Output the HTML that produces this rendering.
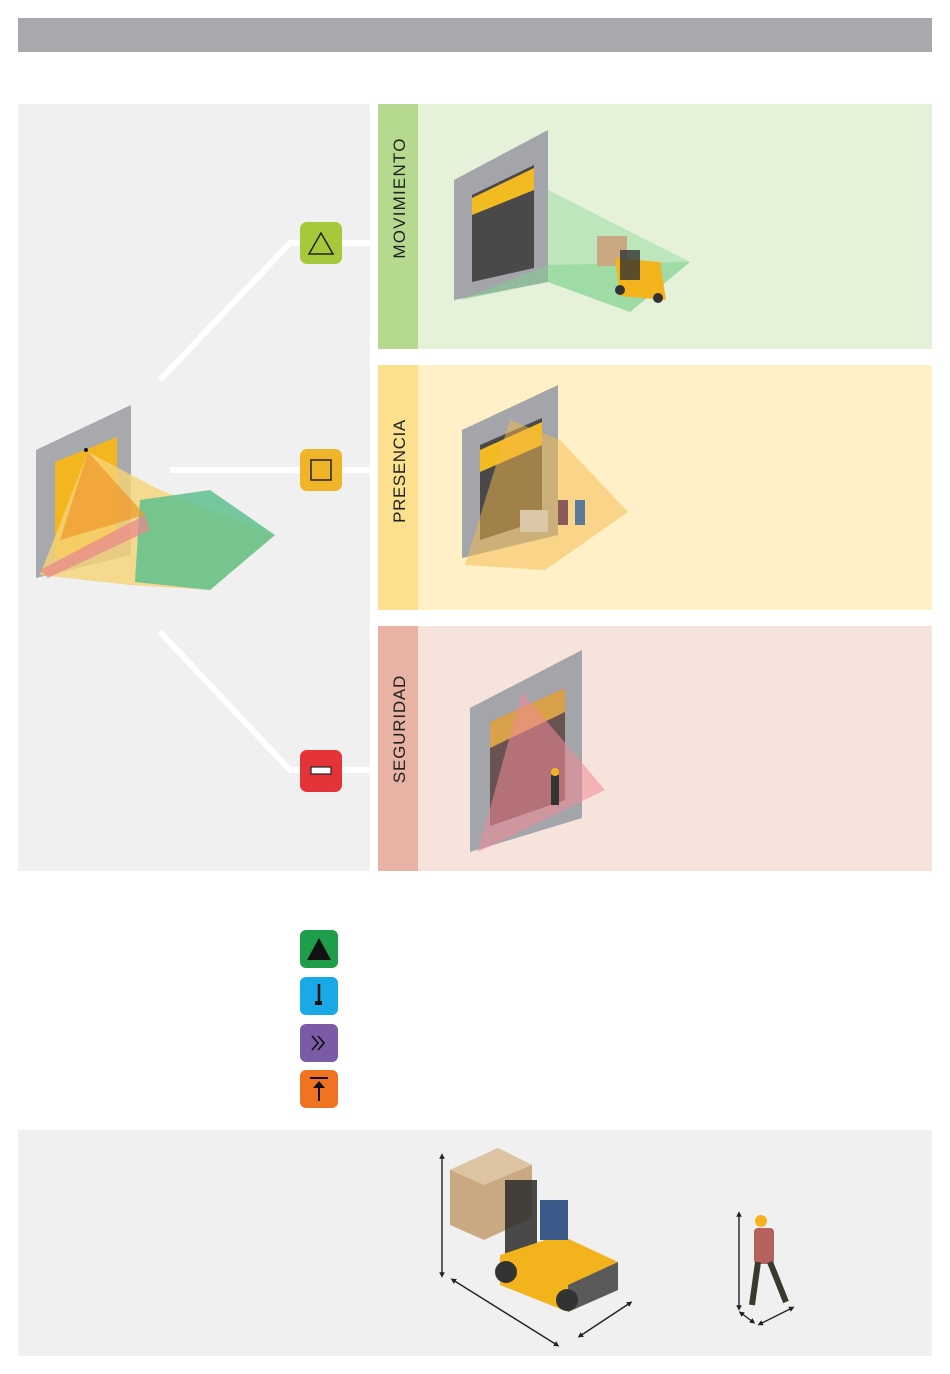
<!DOCTYPE html>
<html><head><meta charset="utf-8"><style>
html,body{margin:0;padding:0;background:#fff;}
svg{display:block;}
text{font-family:"Liberation Sans",sans-serif;}
</style></head><body>
<svg width="950" height="1374" viewBox="0 0 950 1374" xmlns="http://www.w3.org/2000/svg">
<defs><marker id="ar" viewBox="0 0 10 10" refX="5" refY="5" markerWidth="4" markerHeight="4" orient="auto-start-reverse"><path d="M0,0L10,5L0,10z" fill="#222"/></marker></defs>
<rect x="18" y="18" width="914" height="34" fill="#a7a9ac"/>
<rect x="18" y="104" width="352" height="767" fill="#f0f0f0"/>
<rect x="378" y="104" width="554" height="245" fill="#e5f1d8"/>
<rect x="378" y="104" width="40" height="245" fill="#b5d98f"/>
<rect x="378" y="365" width="554" height="245" fill="#fff0c8"/>
<rect x="378" y="365" width="40" height="245" fill="#fde08e"/>
<rect x="378" y="626" width="554" height="245" fill="#f6e3dc"/>
<rect x="378" y="626" width="40" height="245" fill="#e8b2a5"/>
<text transform="translate(405,198) rotate(-90)" text-anchor="middle" font-size="17" letter-spacing="1.2" fill="#222">MOVIMIENTO</text>
<text transform="translate(405,471) rotate(-90)" text-anchor="middle" font-size="17" letter-spacing="0.6" fill="#222">PRESENCIA</text>
<text transform="translate(405,729) rotate(-90)" text-anchor="middle" font-size="17" letter-spacing="0.8" fill="#222">SEGURIDAD</text>
<g stroke="#fff" stroke-width="6" fill="none">
<polyline points="160,380 290,243 378,243"/>
<polyline points="170,470 378,470"/>
<polyline points="160,632 290,770 378,770"/>
</g>
<rect x="300" y="222" width="42" height="42" rx="7" fill="#a6c93c"/>
<path d="M321,233L333,254L309,254z" fill="none" stroke="#222" stroke-width="1.5"/>
<rect x="300" y="449" width="42" height="42" rx="7" fill="#f0b429"/>
<rect x="311" y="460" width="20" height="20" fill="none" stroke="#222" stroke-width="1.5"/>
<rect x="300" y="750" width="42" height="42" rx="7" fill="#e4343a"/>
<rect x="311" y="767" width="20" height="7" fill="#fff" stroke="#222" stroke-width="1.2"/>
<!-- left main illustration -->
<polygon points="36,450 131,405 131,555 36,578" fill="#a8a9ad"/>
<polygon points="55,462 117,437 117,540 55,560" fill="#f4b61e"/>
<polygon points="88,452 160,490 275,535 210,590 130,585 40,575" fill="#f5d376" opacity="0.8"/>
<polygon points="140,500 210,490 275,535 210,590 135,582" fill="#5fc18f" opacity="0.85"/>
<polygon points="88,452 60,540 145,515" fill="#ef9a2d" opacity="0.75"/>
<polygon points="40,570 145,515 150,530 48,578" fill="#e9868a" opacity="0.7"/>
<circle cx="86" cy="450" r="2" fill="#111"/>
<!-- movimiento -->
<polygon points="454,180 548,130 548,282 454,300" fill="#a4a5aa"/>
<polygon points="472,195 534,165 534,268 472,282" fill="#4a4848"/>
<polygon points="472,198 534,168 534,190 472,215" fill="#f2bb22"/>
<polygon points="548,190 690,262 630,312 548,282" fill="#9fdca8" opacity="0.55"/>
<polygon points="460,300 548,282 630,312 690,262 548,265" fill="#7fd08e" opacity="0.5"/>
<rect x="597" y="236" width="30" height="30" fill="#c9a882"/>
<polygon points="615,258 660,262 666,300 620,296" fill="#f2b31c"/>
<rect x="620" y="250" width="20" height="30" fill="#333" opacity="0.8"/>
<circle cx="620" cy="290" r="5" fill="#333"/><circle cx="658" cy="298" r="5" fill="#333"/>
<!-- presencia -->
<polygon points="462,430 558,385 558,535 462,558" fill="#a4a5aa"/>
<polygon points="480,445 542,418 542,520 480,540" fill="#4a4848"/>
<polygon points="480,450 542,422 542,445 480,472" fill="#f2bb22"/>
<polygon points="510,420 560,440 628,512 545,570 465,565" fill="#f5b94a" opacity="0.5"/>
<rect x="520" y="510" width="28" height="22" fill="#d9c7a5"/>
<rect x="558" y="500" width="10" height="25" fill="#8b5a5a"/><rect x="575" y="500" width="10" height="25" fill="#5b7a9a"/>
<!-- seguridad -->
<polygon points="470,708 582,650 582,818 470,852" fill="#a4a5aa"/>
<polygon points="490,722 565,688 565,800 490,826" fill="#6a5252"/>
<polygon points="490,722 565,688 565,712 490,748" fill="#d9a24a"/>
<polygon points="522,692 605,790 478,852" fill="#f08a96" opacity="0.55"/>
<rect x="551" y="775" width="8" height="30" fill="#333"/><circle cx="555" cy="772" r="4" fill="#f2b31c"/>
<!-- legend -->
<rect x="300" y="930" width="38" height="38" rx="6" fill="#1e9e4a"/>
<path d="M319,938L331,960L307,960z" fill="#111"/>
<rect x="300" y="977" width="38" height="38" rx="6" fill="#1aa8e6"/>
<path d="M319,984V1002" stroke="#111" stroke-width="2.5"/><rect x="315" y="1001" width="7" height="4" fill="#111"/>
<rect x="300" y="1024" width="38" height="38" rx="6" fill="#7b5aa6"/>
<path d="M312,1036l6,7-6,7M318,1036l6,7-6,7" stroke="#111" stroke-width="1.6" fill="none"/>
<rect x="300" y="1070" width="38" height="38" rx="6" fill="#f07322"/>
<path d="M310,1078H328M319,1101V1084" stroke="#111" stroke-width="2"/><path d="M313,1088L319,1081L325,1088z" fill="#111"/>
<!-- bottom -->
<rect x="18" y="1130" width="914" height="226" fill="#f0f0f0"/>
<polygon points="450,1170 498,1148 532,1165 532,1218 484,1240 450,1225" fill="#c9a882"/>
<polygon points="450,1170 498,1148 532,1165 484,1185" fill="#ddc4a2"/>
<rect x="505" y="1180" width="32" height="80" fill="#2c2c2c" opacity="0.85"/>
<polygon points="500,1255 560,1235 618,1262 618,1290 568,1312 500,1285" fill="#f2b31c"/>
<polygon points="568,1285 618,1262 618,1290 568,1312" fill="#5a5a5a"/>
<circle cx="506" cy="1272" r="11" fill="#333"/><circle cx="567" cy="1300" r="11" fill="#333"/>
<rect x="540" y="1200" width="28" height="40" fill="#3b5a8a"/>
<g stroke="#222" stroke-width="1.4" marker-start="url(#ar)" marker-end="url(#ar)">
<line x1="442" y1="1156" x2="442" y2="1275"/>
<line x1="453" y1="1280" x2="557" y2="1345"/>
<line x1="580" y1="1336" x2="630" y2="1303"/>
<line x1="739" y1="1214" x2="739" y2="1308"/>
<line x1="741" y1="1313" x2="753" y2="1322"/>
<line x1="760" y1="1324" x2="792" y2="1308"/>
</g>
<circle cx="761" cy="1221" r="6" fill="#f2b31c"/>
<rect x="754" y="1228" width="20" height="36" rx="4" fill="#b5615e"/>
<path d="M758,1262L752,1305M770,1262L786,1302" stroke="#3a3a2c" stroke-width="6"/>
</svg>
</body></html>
